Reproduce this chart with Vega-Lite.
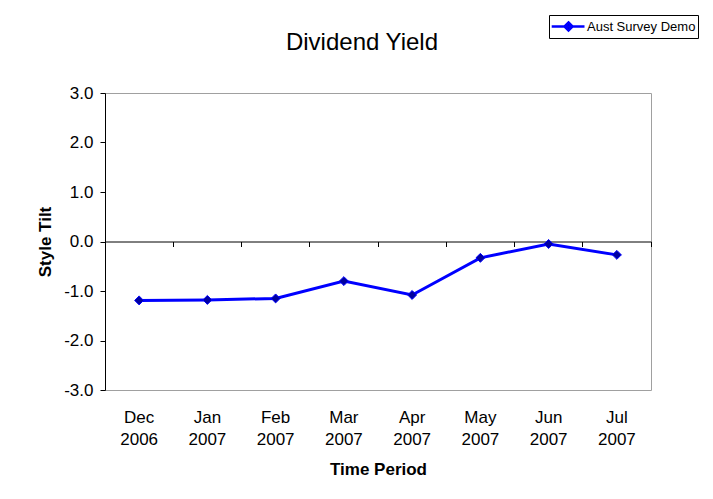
{
  "$schema": "https://vega.github.io/schema/vega-lite/v6.json",
  "width": 546,
  "height": 297,
  "autosize": {"type": "none"},
  "padding": {"left": 105, "top": 93, "right": 62, "bottom": 109},
  "background": "white",
  "title": {"text": "Dividend Yield", "fontSize": 24, "fontWeight": "normal", "font": "Liberation Sans", "color": "black", "anchor": "middle", "dx": -16, "offset": -40},
  "config": {"view": {"stroke": "#a0a0a0", "strokeWidth": 1}, "font": "Liberation Sans"},
  "data": {"values": [
    {"period": "Dec 2006", "series": "Aust Survey Demo", "tilt": -1.19},
    {"period": "Jan 2007", "series": "Aust Survey Demo", "tilt": -1.18},
    {"period": "Feb 2007", "series": "Aust Survey Demo", "tilt": -1.15},
    {"period": "Mar 2007", "series": "Aust Survey Demo", "tilt": -0.80},
    {"period": "Apr 2007", "series": "Aust Survey Demo", "tilt": -1.08},
    {"period": "May 2007", "series": "Aust Survey Demo", "tilt": -0.33},
    {"period": "Jun 2007", "series": "Aust Survey Demo", "tilt": -0.05},
    {"period": "Jul 2007", "series": "Aust Survey Demo", "tilt": -0.27}
  ]},
  "encoding": {
    "x": {"field": "period", "type": "ordinal", "sort": null,
      "scale": {"type": "band", "paddingInner": 0, "paddingOuter": 0},
      "axis": {"title": "Time Period", "orient": "bottom", "offset": -148.5, "domainColor": "black", "domainWidth": 1, "tickColor": "black", "tickSize": 5, "bandPosition": 1, "tickExtra": true, "labelExpr": "split(datum.label, ' ')", "labelFontSize": 17, "labelColor": "black", "labelLineHeight": 22, "labelPadding": 163, "labelDx": -34.125, "labelAngle": 0, "labelBaseline": "top", "labelOverlap": false, "labelFlush": false, "titleFontSize": 17, "titleFontWeight": "bold", "titleColor": "black", "titlePadding": 20, "grid": false}},
    "y": {"field": "tilt", "type": "quantitative",
      "scale": {"domain": [-3, 3], "nice": false},
      "axis": {"title": "Style Tilt", "values": [-3, -2, -1, 0, 1, 2, 3], "format": ".1f", "labelExpr": "replace(datum.label, '\u2212', '-')", "grid": false, "domainColor": "black", "tickColor": "black", "tickSize": 5, "labelFontSize": 17, "labelColor": "black", "labelPadding": 7, "titleFontSize": 17, "titleFontWeight": "bold", "titleColor": "black", "titlePadding": 9}}
  },
  "layer": [
    {"mark": {"type": "line", "strokeWidth": 3},
     "encoding": {"color": {"field": "series", "type": "nominal", "scale": {"range": ["#0000ff"]},
       "legend": {"title": null, "orient": "none", "legendX": 444, "legendY": -78, "strokeColor": "black", "fillColor": "white", "padding": 2, "cornerRadius": 0, "labelFontSize": 13, "labelColor": "black", "labelOffset": 17, "symbolType": "M-1.1,0H3M1,-0.5L1.5,0L1,0.5L0.5,0Z", "symbolSize": 256, "symbolStrokeWidth": 2.5, "symbolStrokeColor": "#0000ff", "symbolFillColor": "#0000a0",
         "encode": {"symbols": {"update": {"fill": {"value": "#0000a0"}, "stroke": {"value": "#0000ff"}, "strokeWidth": {"value": 2.5}}}}}}}},
    {"mark": {"type": "point", "shape": "diamond", "filled": true, "size": 80, "fill": "#0000a0", "stroke": "#0000ff", "strokeWidth": 1, "opacity": 1}}
  ]
}
